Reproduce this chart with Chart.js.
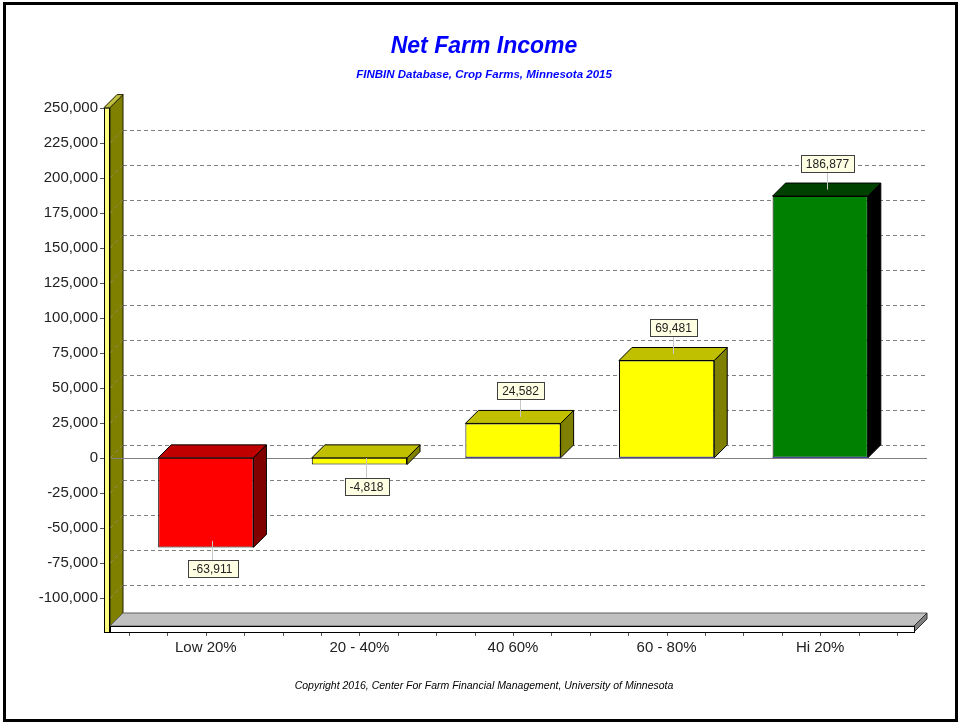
<!DOCTYPE html>
<html>
<head>
<meta charset="utf-8">
<title>Net Farm Income</title>
<script src="https://cdn.jsdelivr.net/npm/chart.js@4.4.1/dist/chart.umd.min.js"></script>
<style>
  html, body { margin: 0; padding: 0; background: #fff; }
  #wrap { width: 960px; height: 723px; }
</style>
</head>
<body>
<div id="wrap"><canvas id="myChart" width="960" height="723"></canvas></div>
<script>
const categories = ["Low 20%", "20 - 40%", "40 60%", "60 - 80%", "Hi 20%"];
const netIncome = [-63911, -4818, 24582, 69481, 186877];
const frontColors = ["#FF0000", "#FFFF00", "#FFFF00", "#FFFF00", "#008000"];
const topColors = ["#C00000", "#C0C000", "#C0C000", "#C0C000", "#004000"];
const sideColors = ["#800000", "#808000", "#808000", "#808000", "#000000"];
const yTickValues = [-100000, -75000, -50000, -25000, 0, 25000, 50000, 75000, 100000,
  125000, 150000, 175000, 200000, 225000, 250000];
const yMin = -120000;
const yMax = 250000;

const chartFont = "Arial, 'Liberation Sans', sans-serif";
const DX = 13; // depth offset of the 3d boxes, to the right
const DY = 13; // and upwards

function poly(ctx, pts, fill, stroke) {
  ctx.beginPath();
  ctx.moveTo(pts[0][0], pts[0][1]);
  for (let k = 1; k < pts.length; k++) ctx.lineTo(pts[k][0], pts[k][1]);
  ctx.closePath();
  ctx.fillStyle = fill;
  ctx.fill();
  if (stroke) {
    ctx.strokeStyle = stroke;
    ctx.stroke();
  }
}

// walls, floor, grid and the hidden faces of each bar
const box3d = {
  id: "box3d",
  beforeDatasetsDraw(chart) {
    const { ctx, chartArea: a, scales } = chart;
    const x = scales.x, y = scales.y;
    const wallFront = a.left - 25;
    const wallInner = wallFront + 6;
    const floorRight = a.right + 17;
    const floorBottom = a.bottom + 6;
    const gridTicks = y.ticks.filter((t) => t.value < yMax);

    ctx.save();
    ctx.lineWidth = 1;

    // dashed grid on the back plane
    ctx.strokeStyle = "#808080";
    ctx.setLineDash([4, 3]);
    gridTicks.forEach((t) => {
      const py = Math.round(y.getPixelForValue(t.value)) + 0.5;
      ctx.beginPath();
      ctx.moveTo(wallInner + DX, py - DY);
      ctx.lineTo(floorRight + DX, py - DY);
      ctx.stroke();
    });
    ctx.setLineDash([]);

    // left wall: side face, cap, front strip
    poly(ctx, [[wallInner, a.top], [wallInner + DX, a.top - DY], [wallInner + DX, a.bottom - DY], [wallInner, a.bottom]], "#808000", "#202000");
    poly(ctx, [[wallFront, a.top], [wallInner, a.top], [wallInner + DX, a.top - DY], [wallFront + DX, a.top - DY]], "#C0C040", "#202000");
    ctx.setLineDash([4, 3]);
    ctx.strokeStyle = "#8a8a60";
    gridTicks.forEach((t) => {
      const py = y.getPixelForValue(t.value);
      ctx.beginPath();
      ctx.moveTo(wallInner, py);
      ctx.lineTo(wallInner + DX, py - DY);
      ctx.stroke();
    });
    ctx.setLineDash([]);

    // floor
    poly(ctx, [[wallInner, a.bottom], [floorRight, a.bottom], [floorRight + DX, a.bottom - DY], [wallInner + DX, a.bottom - DY]], "#C0C0C0", "#606060");
    poly(ctx, [[floorRight, a.bottom], [floorRight + DX, a.bottom - DY], [floorRight + DX, a.bottom - DY + 6], [floorRight, floorBottom]], "#808080", "#303030");
    ctx.fillStyle = "#FFFFFF";
    ctx.fillRect(wallInner, a.bottom, floorRight - wallInner, 6);
    ctx.strokeStyle = "#000";
    ctx.strokeRect(wallInner + 0.5, a.bottom + 0.5, floorRight - wallInner, 6);

    ctx.fillStyle = "#FFFF80";
    ctx.fillRect(wallFront, a.top, 6, floorBottom - a.top);
    ctx.strokeStyle = "#000";
    ctx.strokeRect(wallFront + 0.5, a.top + 0.5, 5, floorBottom - a.top);

    // zero line
    const y0 = Math.round(y.getPixelForValue(0)) + 0.5;
    ctx.strokeStyle = "#808080";
    ctx.beginPath();
    ctx.moveTo(wallInner + 1, y0);
    ctx.lineTo(floorRight + DX, y0);
    ctx.stroke();

    // tick marks on the value axis
    ctx.strokeStyle = "#555";
    y.ticks.forEach((t) => {
      const py = Math.round(y.getPixelForValue(t.value)) + 0.5;
      ctx.beginPath();
      ctx.moveTo(wallFront - 4, py);
      ctx.lineTo(wallFront, py);
      ctx.stroke();
    });

    // tick marks under the floor, four per category
    const slot = (x.right - x.left) / categories.length;
    for (let k = 0; k <= categories.length * 4; k++) {
      const px = Math.round(x.left + (k * slot) / 4) + 0.5;
      ctx.beginPath();
      ctx.moveTo(px, floorBottom + 1);
      ctx.lineTo(px, floorBottom + 4);
      ctx.stroke();
    }

    // top and side faces of the bars
    const meta = chart.getDatasetMeta(0);
    meta.data.forEach((bar, i) => {
      const p = bar.getProps(["x", "y", "base", "width"], true);
      const l = p.x - p.width / 2;
      const r = p.x + p.width / 2;
      const top = Math.min(p.y, p.base);
      const bot = Math.max(p.y, p.base);
      poly(ctx, [[r, top], [r + DX, top - DY], [r + DX, bot - DY], [r, bot]], sideColors[i], "#000");
      poly(ctx, [[l, top], [r, top], [r + DX, top - DY], [l + DX, top - DY]], topColors[i], "#000");
    });
    ctx.restore();
  },
  afterDatasetsDraw(chart) {
    const { ctx } = chart;
    const meta = chart.getDatasetMeta(0);
    ctx.save();
    ctx.lineWidth = 1;
    meta.data.forEach((bar, i) => {
      const v = netIncome[i];
      const p = bar.getProps(["x", "y", "base", "width"], true);
      if (v > 0) {
        ctx.strokeStyle = "#40409a";
        ctx.beginPath();
        ctx.moveTo(p.x - p.width / 2, p.base - 0.5);
        ctx.lineTo(p.x + p.width / 2, p.base - 0.5);
        ctx.stroke();
      }
      // value callout
      const cx = Math.round(p.x + DX / 2) + 0.5;
      const text = v.toLocaleString("en-US");
      ctx.font = "12px " + chartFont;
      const bw = Math.round(ctx.measureText(text).width + 10);
      const bh = 17;
      const lineFrom = p.y - DY / 2;
      const boxTop = Math.round(v >= 0 ? p.y - 24.5 - bh : p.y + 13);
      const lineTo = v >= 0 ? boxTop + bh : boxTop;
      ctx.strokeStyle = "#C8C8C8";
      ctx.beginPath();
      ctx.moveTo(cx, lineFrom);
      ctx.lineTo(cx, lineTo);
      ctx.stroke();
      const bx = Math.round(cx - bw / 2) + 0.5;
      ctx.fillStyle = "#FFFFE4";
      ctx.fillRect(bx, boxTop + 0.5, bw, bh);
      ctx.strokeStyle = "#404040";
      ctx.strokeRect(bx, boxTop + 0.5, bw, bh);
      ctx.fillStyle = "#222";
      ctx.textAlign = "center";
      ctx.textBaseline = "middle";
      ctx.fillText(text, cx, boxTop + bh / 2 + 1);
    });
    ctx.restore();
  },
  afterDraw(chart) {
    const { ctx } = chart;
    ctx.save();
    ctx.fillStyle = "#000";
    ctx.font = "italic 10.5px " + chartFont;
    ctx.textAlign = "center";
    ctx.textBaseline = "middle";
    ctx.fillText("Copyright 2016, Center For Farm Financial Management, University of Minnesota", 484, 686);
    ctx.strokeStyle = "#000";
    ctx.lineWidth = 3;
    ctx.strokeRect(4.5, 3.5, 952, 717);
    ctx.restore();
  },
};

const ctx = document.getElementById("myChart");
new Chart(ctx, {
  type: "bar",
  data: {
    labels: categories,
    datasets: [
      {
        label: "Net Farm Income",
        data: netIncome,
        backgroundColor: frontColors,
        borderColor: "#000",
        borderWidth: 1,
        borderSkipped: false,
        barPercentage: 0.62,
        categoryPercentage: 1,
      },
    ],
  },
  options: {
    responsive: false,
    animation: false,
    layout: {
      padding: { left: 8, right: 0, top: 0, bottom: 0 },
    },
    plugins: {
      legend: { display: false },
      tooltip: { enabled: false },
      title: {
        display: true,
        text: "Net Farm Income",
        color: "#0000FF",
        font: { family: chartFont, size: 23, style: "italic", weight: "bold" },
        padding: { top: 33, bottom: 4 },
      },
      subtitle: {
        display: true,
        text: "FINBIN Database, Crop Farms, Minnesota 2015",
        color: "#0000FF",
        font: { family: chartFont, size: 11.5, style: "italic", weight: "bold" },
        padding: { top: 3.6, bottom: 25.6 },
      },
    },
    scales: {
      x: {
        grid: { display: false, drawTicks: false },
        border: { display: false },
        ticks: { color: "#222", padding: 13, font: { family: chartFont, size: 15 } },
        afterFit: (scale) => {
          scale.height = 97;
        },
      },
      y: {
        min: yMin,
        max: yMax,
        grid: { display: false, drawTicks: false },
        border: { display: false },
        ticks: {
          color: "#222",
          padding: 31,
          font: { family: chartFont, size: 15 },
          callback: (value) => value.toLocaleString("en-US"),
        },
        afterBuildTicks: (scale) => {
          scale.ticks = yTickValues.map((v) => ({ value: v }));
        },
        afterFit: (scale) => {
          scale.width = 121;
        },
      },
      // empty strip on the right that keeps room for the depth of the floor
      yRight: {
        axis: "y",
        position: "right",
        grid: { display: false, drawTicks: false },
        border: { display: false },
        ticks: { display: false },
        afterFit: (scale) => {
          scale.width = 63;
        },
      },
    },
  },
  plugins: [box3d],
});
</script>
</body>
</html>
